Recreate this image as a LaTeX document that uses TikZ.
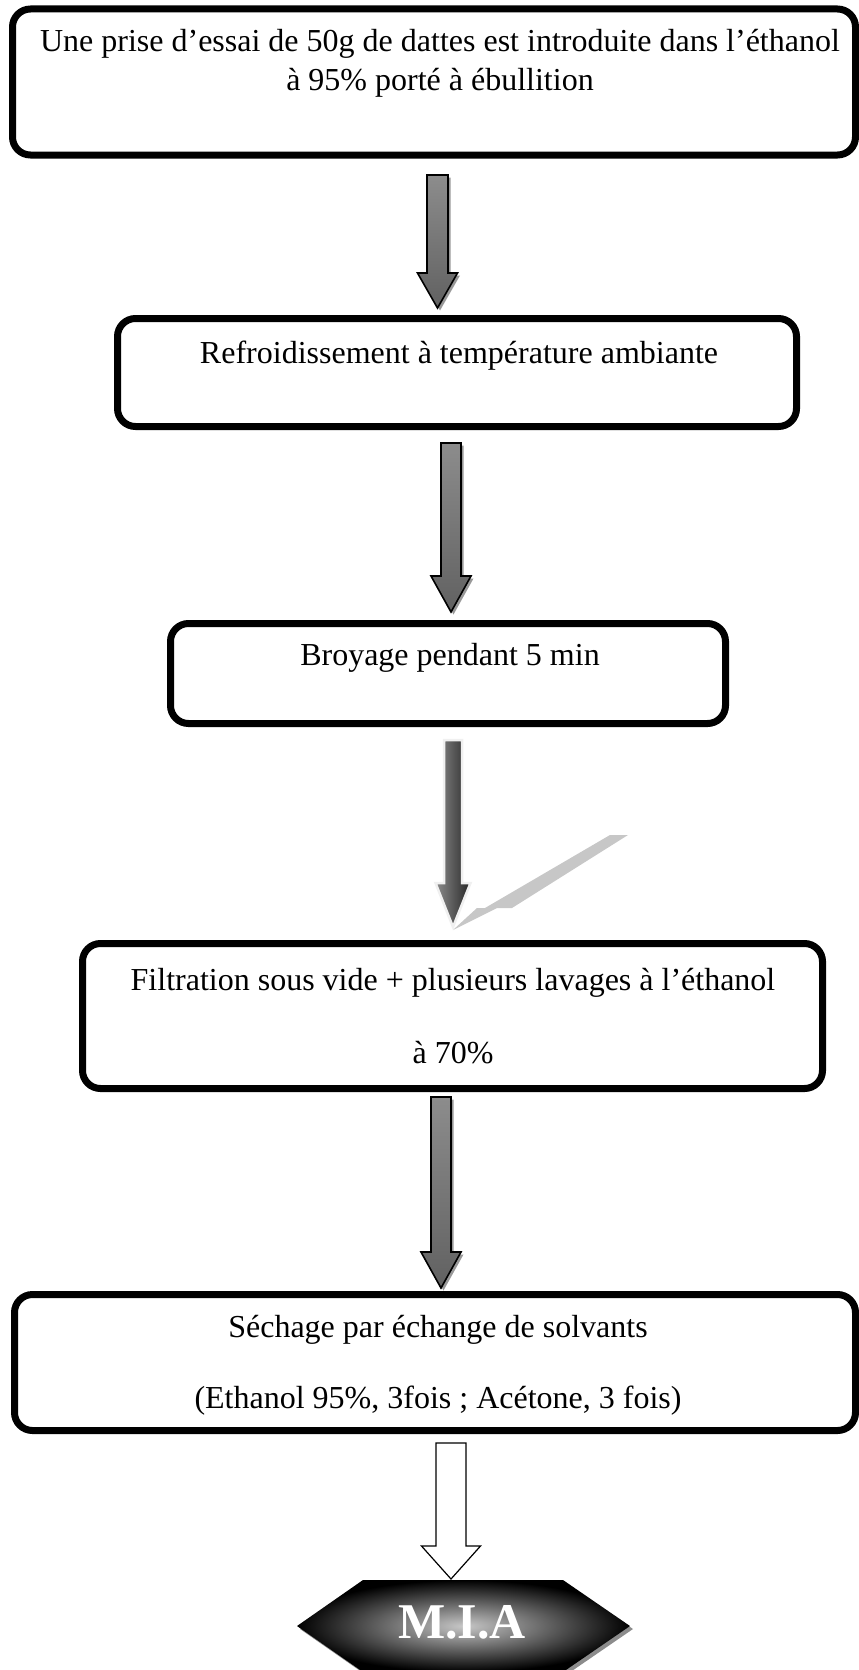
\documentclass[tikz,border=0pt]{standalone}
\usepackage{fontspec}
\setmainfont{Liberation Serif}
\newcommand\barrowpath[6]{(#1-#3,#2) -- (#1+#3,#2) -- (#1+#3,#5) -- (#1+#4,#5) -- (#1,#6) -- (#1-#4,#5) -- (#1-#3,#5) -- cycle}
\begin{document}
\begin{tikzpicture}[x=1pt,y=-1pt,
  box/.style={draw=black, line width=7pt, rounded corners=18pt, inner sep=0pt},
  txt/.style={anchor=base, font=\fontsize{32}{36}\selectfont, inner sep=0pt},
  darrow/.style={draw=black, line width=1.6pt, top color=black!45, middle color=black!97, bottom color=black!62},
  shadowc/.style={fill=black!40, draw=none},
]
\useasboundingbox (0,0) rectangle (859,1670);
% boxes
\node[box, minimum width=843pt, minimum height=146pt] (b1) at (434,82) {};
\node[box, minimum width=679pt, minimum height=108pt] (b2) at (457,372.5) {};
\node[box, minimum width=555pt, minimum height=100pt] (b3) at (448,673.5) {};
\node[box, minimum width=740pt, minimum height=145pt] (b4) at (452.5,1016) {};
\node[box, minimum width=841pt, minimum height=136pt] (b5) at (435,1362.5) {};
% texts
\node[txt] (t1a) at (440,52) {Une prise d’essai de 50g de dattes est introduite dans l’éthanol};
\node[txt] (t1b) at (440,90) {à 95\% porté à ébullition};
\node[txt] (t2) at (459,363) {Refroidissement à température ambiante};
\node[txt] (t3) at (450,665) {Broyage pendant 5 min};
\node[txt] (t4a) at (453,990) {Filtration sous vide + plusieurs lavages à l’éthanol};
\node[txt] (t4b) at (453,1063) {à 70\%};
\node[txt] (t5a) at (438,1337) {Séchage par échange de solvants};
\node[txt] (t5b) at (438,1408) {(Ethanol 95\%, 3fois ; Acétone, 3 fois)};
% arrow 1
\fill[shadowc] \barrowpath{440}{177.5}{10.5}{20}{275.5}{310.5};
\path[darrow] \barrowpath{437.5}{175}{10.5}{20}{273}{308};
% arrow 2
\fill[shadowc] \barrowpath{453.5}{445.5}{10}{20}{578.5}{614.5};
\path[darrow] \barrowpath{451}{443}{10}{20}{576}{612};
% arrow 3 (light)
\fill[black!22] (610,835) -- (628,835) -- (512,908) -- (497,908) -- (453,930) -- (477,908) -- (485,908) -- cycle;
\path[draw=black!6, line width=2.5pt, left color=black!45, right color=black!85] \barrowpath{453}{740}{9}{17.5}{883}{927};
% arrow 4
\fill[shadowc] \barrowpath{443.5}{1099.5}{10}{20}{1254.5}{1290.5};
\path[darrow] \barrowpath{441}{1097}{10}{20}{1252}{1288};
% arrow 5
\draw[line width=1.2pt, fill=white] \barrowpath{451}{1443}{15}{29.5}{1546}{1579};
% hexagon
\fill[black!45] (300,1629) -- (366,1583) -- (566,1583) -- (633,1629) -- (566,1675) -- (366,1675) -- cycle;
\shade[inner color=black!22, outer color=black] (297,1626) -- (363,1580) -- (563,1580) -- (630,1626) -- (563,1672) -- (363,1672) -- cycle;
\node[anchor=base, inner sep=0pt, text=white, font=\bfseries\fontsize{50}{60}\selectfont] (mia) at (462,1638) {M.I.A};
\end{tikzpicture}
\end{document}
